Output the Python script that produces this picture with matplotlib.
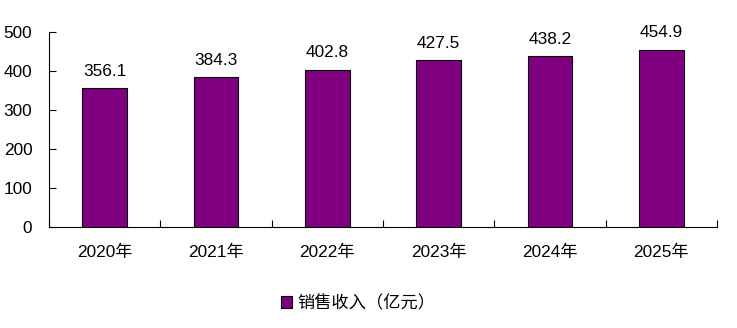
import matplotlib
matplotlib.use("Agg")
import matplotlib.pyplot as plt
from matplotlib.patches import Patch
import numpy as np

years = ["2020年", "2021年", "2022年", "2023年", "2024年", "2025年"]
revenue = [356.1, 384.3, 402.8, 427.5, 438.2, 454.9]
series_name = "销售收入（亿元）"
y_ticks = [0, 100, 200, 300, 400, 500]

plt.rcParams["font.family"] = ["Liberation Sans", "Noto Sans CJK SC", "DejaVu Sans"]
fs = 12.4

fig = plt.figure(figsize=(7.37, 3.28), dpi=100)
ax = fig.add_axes([49 / 737, 1 - 227 / 328, (717 - 49) / 737, (227 - 32) / 328])

bar_color = "#800080"
x = np.arange(len(years))
ax.bar(x, revenue, width=0.40, color=bar_color, edgecolor="black", linewidth=0.8)

for xi, v in zip(x, revenue):
    ax.annotate(f"{v:.1f}", (xi, v), xytext=(0, 9), textcoords="offset points",
                ha="center", va="baseline", fontsize=fs)

ax.set_xlim(-0.5, len(years) - 0.5)
ax.set_ylim(0, 500)
ax.set_yticks(y_ticks)
ax.set_xticks(x)
ax.set_xticklabels(years, fontsize=fs)
ax.set_xticks(np.arange(len(years) + 1) - 0.5, minor=True)

ax.tick_params(axis="x", which="major", length=0, pad=13)
ax.tick_params(axis="x", which="minor", direction="in", length=5, width=0.8)
ax.tick_params(axis="y", direction="in", length=5, width=0.8, pad=12, labelsize=fs)

for s in ["top", "right"]:
    ax.spines[s].set_visible(False)
for s in ["left", "bottom"]:
    ax.spines[s].set_linewidth(0.8)

handle = Patch(facecolor=bar_color, edgecolor="black", linewidth=0.8)
fig.legend([handle], [series_name], loc="center", bbox_to_anchor=(0.486, 25 / 328),
           frameon=False, handlelength=0.65, handleheight=0.65, handletextpad=0.35,
           prop={"family": ["Noto Sans CJK SC"], "size": fs})

fig.savefig("out.png", dpi=100)
